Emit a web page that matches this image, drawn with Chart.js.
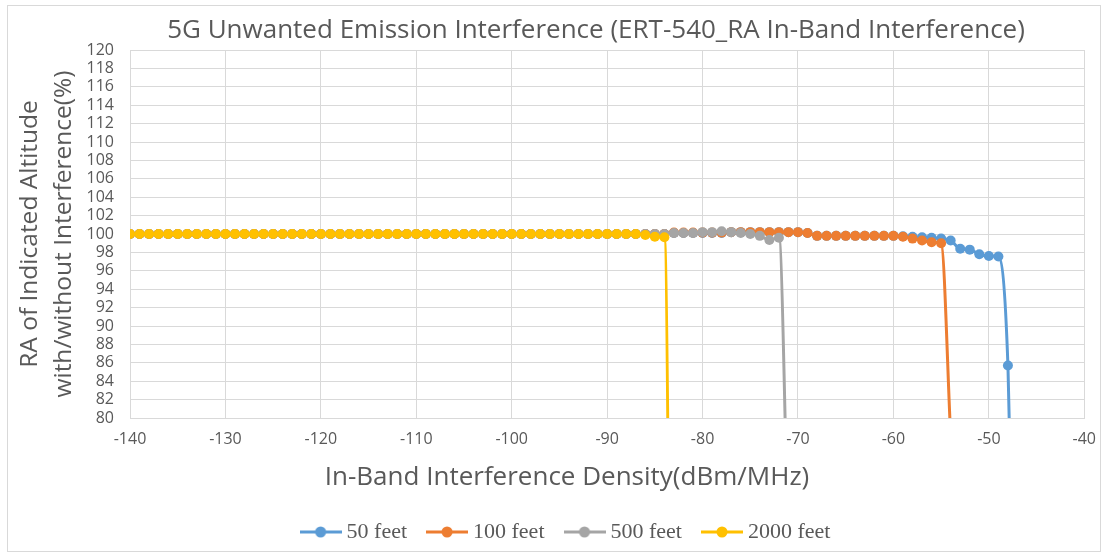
<!DOCTYPE html>
<html>
<head>
<meta charset="utf-8">
<title>5G Unwanted Emission Interference</title>
<script src="https://cdn.jsdelivr.net/npm/chart.js@4.4.0/dist/chart.umd.min.js"></script>
<style>
  html, body { margin: 0; padding: 0; background: #fff; }
  #wrap { position: relative; width: 1108px; height: 557px; }
  #frame { position: absolute; left: 7px; top: 5px; width: 1094px; height: 547px; border: 1px solid #d9d9d9; box-sizing: border-box; pointer-events: none; }
</style>
</head>
<body>
<div id="wrap">
  <canvas id="myChart"></canvas>
  <div id="frame"></div>
</div>
<script>
var chartTitle = '5G Unwanted Emission Interference (ERT-540_RA In-Band Interference)';
var xTitle = 'In-Band Interference Density(dBm/MHz)';
var yTitle = ['RA of Indicated Altitude', 'with/without Interference(%)'];
var seriesNames = ['50 feet', '100 feet', '500 feet', '2000 feet'];
var seriesColors = ['#5B9BD5', '#ED7D31', '#A5A5A5', '#FFC000'];

// interference density (dBm/MHz), one point per dB
var dbm = [
  -140, -139, -138, -137, -136, -135, -134, -133, -132, -131,
  -130, -129, -128, -127, -126, -125, -124, -123, -122, -121,
  -120, -119, -118, -117, -116, -115, -114, -113, -112, -111,
  -110, -109, -108, -107, -106, -105, -104, -103, -102, -101,
  -100, -99, -98, -97, -96, -95, -94, -93, -92, -91,
  -90, -89, -88, -87, -86, -85, -84, -83, -82, -81,
  -80, -79, -78, -77, -76, -75, -74, -73, -72, -71,
  -70, -69, -68, -67, -66, -65, -64, -63, -62, -61,
  -60, -59, -58, -57, -56, -55, -54, -53, -52, -51,
  -50, -49, -48, -47
];

// 50 feet: -140 .. -47
var ft50 = [
  100, 100, 100, 100, 100, 100, 100, 100, 100, 100,
  100, 100, 100, 100, 100, 100, 100, 100, 100, 100,
  100, 100, 100, 100, 100, 100, 100, 100, 100, 100,
  100, 100, 100, 100, 100, 100, 100, 100, 100, 100,
  100, 100, 100, 100, 100, 100, 100, 100, 100, 100,
  100, 100, 100, 100, 100, 100, 100, 100.1, 100.1, 100.1,
  100.1, 100.1, 100.1, 100.2, 100.2, 100.2, 100.2, 100.2, 100.2, 100.2,
  100.2, 100.1, 99.8, 99.8, 99.8, 99.8, 99.8, 99.8, 99.8, 99.8,
  99.8, 99.75, 99.7, 99.65, 99.6, 99.5, 99.3, 98.4, 98.3, 97.8,
  97.6, 97.55, 85.7, 40
];

// 100 feet: -140 .. -54
var ft100 = [
  100, 100, 100, 100, 100, 100, 100, 100, 100, 100,
  100, 100, 100, 100, 100, 100, 100, 100, 100, 100,
  100, 100, 100, 100, 100, 100, 100, 100, 100, 100,
  100, 100, 100, 100, 100, 100, 100, 100, 100, 100,
  100, 100, 100, 100, 100, 100, 100, 100, 100, 100,
  100, 100, 100, 100, 100, 100, 100, 100.15, 100.15, 100.15,
  100.15, 100.15, 100.15, 100.2, 100.2, 100.2, 100.2, 100.2, 100.2, 100.2,
  100.2, 100.1, 99.8, 99.8, 99.8, 99.8, 99.8, 99.8, 99.8, 99.8,
  99.8, 99.7, 99.5, 99.3, 99.1, 99.0, 78
];

// 500 feet: -140 .. -71
var ft500 = [
  100, 100, 100, 100, 100, 100, 100, 100, 100, 100,
  100, 100, 100, 100, 100, 100, 100, 100, 100, 100,
  100, 100, 100, 100, 100, 100, 100, 100, 100, 100,
  100, 100, 100, 100, 100, 100, 100, 100, 100, 100,
  100, 100, 100, 100, 100, 100, 100, 100, 100, 100,
  100, 100, 100, 100, 100, 100, 100, 100.1, 100.1, 100.1,
  100.2, 100.2, 100.3, 100.2, 100.1, 100.0, 99.8, 99.35, 99.6, 65
];

// 2000 feet: -140 .. -83
var ft2000 = [
  100, 100, 100, 100, 100, 100, 100, 100, 100, 100,
  100, 100, 100, 100, 100, 100, 100, 100, 100, 100,
  100, 100, 100, 100, 100, 100, 100, 100, 100, 100,
  100, 100, 100, 100, 100, 100, 100, 100, 100, 100,
  100, 100, 100, 100, 100, 100, 100, 100, 100, 100,
  100, 100, 100, 100, 99.9, 99.7, 99.65, 0
];

var yValues = [ft50, ft100, ft500, ft2000];

function toPoints(values) {
    return values.map(function (v, i) {
        return { x: dbm[i], y: v };
    });
}

// legend marker: short line with a dot in the middle
function makeMarker(color) {
    var c = document.createElement('canvas');
    c.width = 42;
    c.height = 12;
    var g = c.getContext('2d');
    g.strokeStyle = color;
    g.lineWidth = 3;
    g.beginPath();
    g.moveTo(0, 6);
    g.lineTo(42, 6);
    g.stroke();
    g.fillStyle = color;
    g.beginPath();
    g.arc(21, 6, 5.5, 0, Math.PI * 2);
    g.fill();
    return c;
}
var markers = seriesColors.map(makeMarker);

var datasets = yValues.map(function (values, i) {
    return {
        label: seriesNames[i],
        data: toPoints(values),
        borderColor: seriesColors[i],
        backgroundColor: seriesColors[i],
        borderWidth: 3,
        pointRadius: 5,
        pointHoverRadius: 5,
        pointBorderWidth: 0,
        cubicInterpolationMode: 'monotone',
        order: 4 - i
    };
});

// chart title and x axis title are placed like in the excel original (not centred on the canvas)
var excelTitles = {
    id: 'excelTitles',
    afterLayout: function (chart) {
        chart.legend.left += 20;
        chart.legend.right += 20;
    },
    afterDraw: function (chart) {
        var c = chart.ctx;
        c.save();
        c.fillStyle = '#595959';
        c.textAlign = 'center';
        c.textBaseline = 'middle';
        c.font = '26px "Open Sans"';
        c.fillText(chartTitle, 596, 31);
        c.fillText(xTitle, 567, 478);
        c.restore();
    }
};

var tickFont = { family: 'Open Sans', size: 16 };
var gridColor = '#d9d9d9';

var ctx = document.getElementById('myChart').getContext('2d');
var myChart = new Chart(ctx, {
    type: 'line',
    data: { datasets: datasets },
    plugins: [excelTitles],
    options: {
        responsive: true,
        maintainAspectRatio: false,
        animation: false,
        layout: { padding: { left: 8, right: 20, top: 50, bottom: 4 } },
        plugins: {
            legend: {
                position: 'bottom',
                reverse: true,
                labels: {
                    usePointStyle: true,
                    pointStyleWidth: 30,
                    padding: 25,
                    color: '#595959',
                    font: { family: 'Liberation Serif', size: 22 },
                    generateLabels: function (chart) {
                        var items = Chart.defaults.plugins.legend.labels.generateLabels(chart);
                        items.forEach(function (it) {
                            it.pointStyle = markers[it.datasetIndex];
                        });
                        return items;
                    }
                }
            },
            tooltip: { enabled: false }
        },
        scales: {
            x: {
                type: 'linear',
                min: -140,
                max: -40,
                ticks: { stepSize: 10, color: '#595959', font: tickFont, padding: 12 },
                grid: { color: gridColor, drawTicks: false },
                border: { color: gridColor },
                afterFit: function (scale) { scale.height = 78; }
            },
            y: {
                min: 80,
                max: 120,
                ticks: { stepSize: 2, autoSkip: false, color: '#595959', font: tickFont, padding: 16 },
                grid: { color: gridColor, drawTicks: false },
                border: { color: gridColor },
                title: {
                    display: true,
                    text: yTitle,
                    color: '#595959',
                    font: { family: 'Open Sans', size: 24.5, lineHeight: 1.38 },
                    padding: { top: 5, bottom: 0 }
                },
                afterFit: function (scale) { scale.width = 122; }
            }
        }
    }
});
</script>
</body>
</html>
